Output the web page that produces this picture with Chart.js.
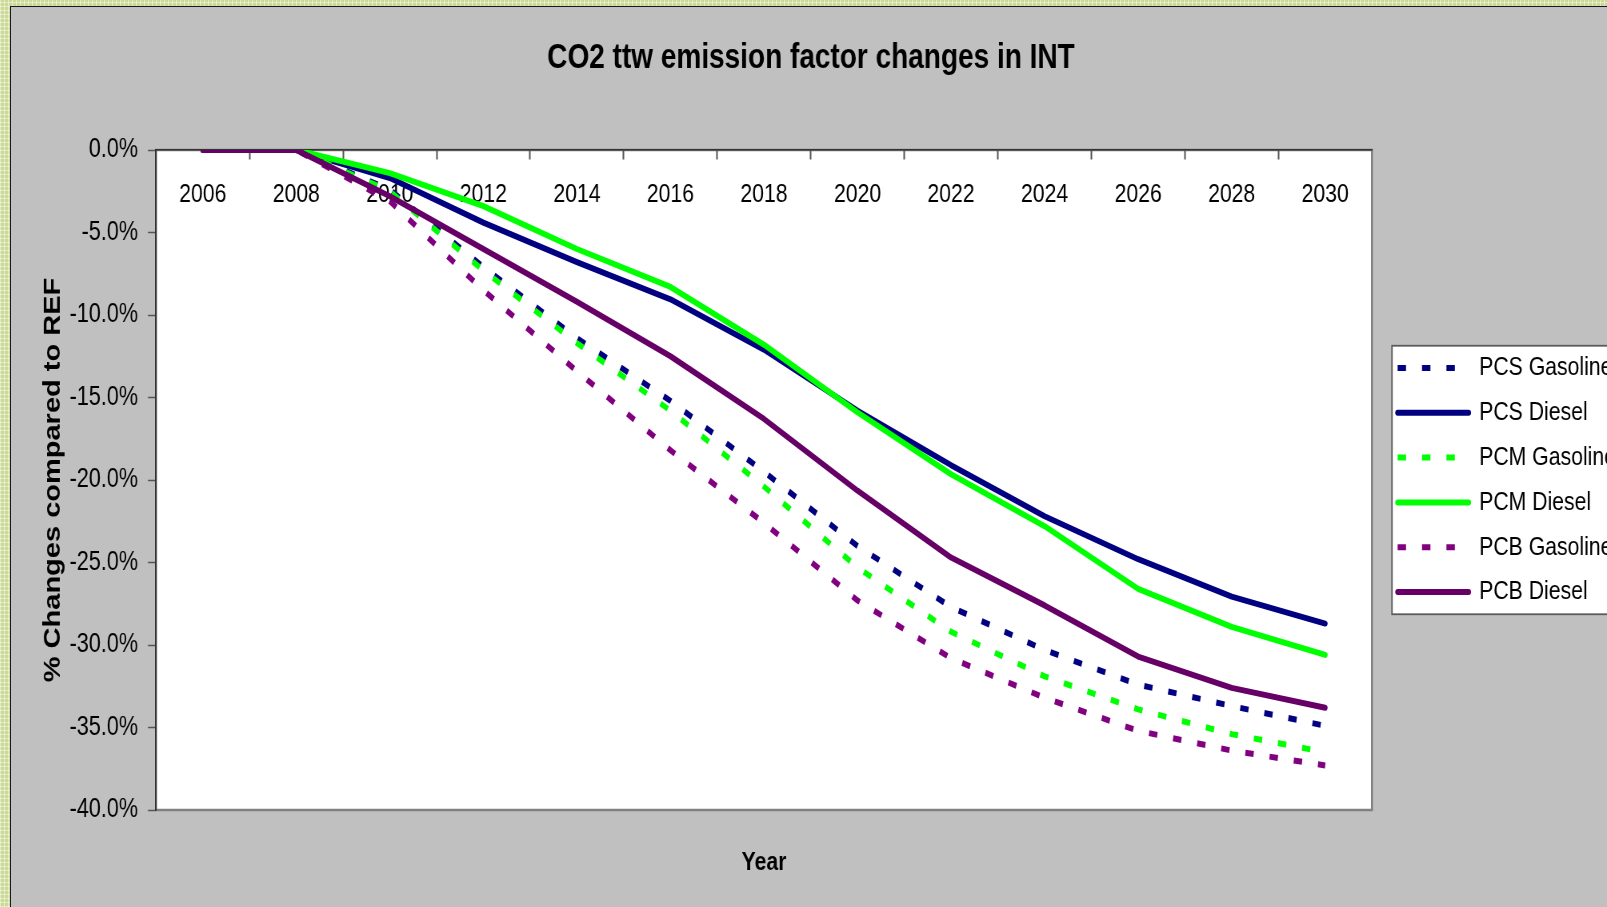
<!DOCTYPE html>
<html>
<head>
<meta charset="utf-8">
<script src="https://cdn.jsdelivr.net/npm/chart.js@4.4.1/dist/chart.umd.min.js"></script>
<style>
html,body{margin:0;padding:0;width:1607px;height:907px;overflow:hidden;}
body{
  background-color:#cad996;
  background-image:
    repeating-linear-gradient(0deg, rgba(255,255,255,0.45) 0 1px, transparent 1px 4px),
    repeating-linear-gradient(90deg, rgba(255,255,255,0.45) 0 1px, transparent 1px 4px);
}
#frame{position:absolute;left:10px;top:6px;width:1700px;height:1000px;background:#c0c0c0;border-left:1px solid #1a1a1a;border-top:1px solid #1a1a1a;overflow:hidden;}
#c{position:absolute;left:0;top:0;transform:scaleX(0.8);transform-origin:0 0;}
</style>
</head>
<body>
<div id="frame"><canvas id="c" width="2000" height="900"></canvas></div>
<script>
// ---- data ----
const years = [2006, 2008, 2010, 2012, 2014, 2016, 2018, 2020, 2022, 2024, 2026, 2028, 2030];
const seriesNames = ['PCS Gasoline', 'PCS Diesel', 'PCM Gasoline', 'PCM Diesel', 'PCB Gasoline', 'PCB Diesel'];
const pcsGasoline = [0, 0, -2.4, -7.1, -11.4, -15.2, -19.5, -24.0, -27.7, -30.3, -32.4, -33.7, -34.9];
const pcsDiesel   = [0, 0, -1.7, -4.4, -6.8, -9.05, -12.1, -15.8, -19.1, -22.2, -24.8, -27.07, -28.7];
const pcmGasoline = [0, 0, -2.5, -7.3, -11.7, -15.8, -20.4, -25.3, -29.2, -31.9, -33.9, -35.4, -36.5];
const pcmDiesel   = [0, 0, -1.4, -3.4, -6.0, -8.3, -11.8, -15.9, -19.65, -22.8, -26.6, -28.9, -30.6];
const pcbGasoline = [0, 0, -3.1, -8.5, -13.4, -18.2, -22.6, -27.3, -30.8, -33.2, -35.2, -36.4, -37.3];
const pcbDiesel   = [0, 0, -2.8, -6.0, -9.2, -12.5, -16.3, -20.65, -24.7, -27.6, -30.7, -32.6, -33.8];
const xLabelYears = [2006, 2008, 2010, 2012, 2014, 2016, 2018, 2020, 2022, 2024, 2026, 2028, 2030];
const yTickValues = [0, -5, -10, -15, -20, -25, -30, -35, -40];

const FONT = "'Liberation Sans',Arial,sans-serif";
Chart.defaults.font.family = FONT;
Chart.defaults.color = '#000';

const seriesValues = [pcsGasoline, pcsDiesel, pcmGasoline, pcmDiesel, pcbGasoline, pcbDiesel];
const colors = ['#000080', '#000080', '#00ff00', '#00ff00', '#800080', '#660066'];
const dotted = [true, false, true, false, true, false];

const datasets = seriesNames.map((name, i) => ({
  label: name,
  data: years.map((yr, j) => ({x: yr, y: seriesValues[i][j]})),
  borderColor: colors[i],
  backgroundColor: colors[i],
  borderWidth: 6,
  borderDash: dotted[i] ? [10.5, 20] : [],
  borderCapStyle: dotted[i] ? 'butt' : 'round',
  borderJoinStyle: 'round',
  pointRadius: 0,
  pointHoverRadius: 0,
  tension: 0,
  fill: false,
  xAxisID: 'x',
  yAxisID: 'y',
  order: seriesNames.length - i
}));

const decor = {
  id: 'decor',
  beforeDraw(chart) {
    const {ctx, chartArea: a} = chart;
    ctx.save();
    ctx.fillStyle = '#ffffff';
    ctx.fillRect(a.left, a.top, a.width, a.height);
    ctx.strokeStyle = '#808080';
    ctx.lineWidth = 2.5;
    ctx.strokeRect(a.left, a.top, a.width, a.height);
    const lg = chart.legend;
    const hb = lg && lg.legendHitBoxes;
    if (hb && hb.length) {
      const top = hb[0].top - 9;
      const last = hb[hb.length - 1];
      const bottom = last.top + last.height + 9;
      const left = lg.left + 11.25;
      ctx.fillStyle = '#ffffff';
      ctx.fillRect(left, top, chart.width - left + 20, bottom - top);
      ctx.strokeStyle = '#5a5a5a';
      ctx.lineWidth = 1.8;
      ctx.strokeRect(left, top, chart.width - left + 20, bottom - top);
    }
    ctx.restore();
  }
};

const baseLabels = Chart.defaults.plugins.legend.labels.generateLabels;

new Chart(document.getElementById('c'), {
  type: 'line',
  data: {datasets},
  plugins: [decor],
  options: {
    responsive: false,
    animation: false,
    devicePixelRatio: 1,
    layout: {padding: 0},
    plugins: {
      tooltip: {enabled: false},
      title: {
        display: true,
        text: 'CO2 ttw emission factor changes in INT',
        color: '#000',
        font: {size: 35, weight: 'bold', family: FONT},
        padding: {top: 30.5, bottom: 70.5}
      },
      legend: {
        position: 'right',
        align: 'center',
        fullSize: false,
        maxWidth: 285,
        labels: {
          usePointStyle: true,
          pointStyle: 'line',
          pointStyleWidth: 88.75,
          padding: 18.3,
          color: '#000',
          font: {size: 26.5, family: FONT},
          sort: (a, b) => a.datasetIndex - b.datasetIndex,
          generateLabels(chart) {
            const items = baseLabels(chart);
            items.forEach(it => {
              const ds = chart.data.datasets[it.datasetIndex];
              it.lineDash = ds.borderDash;
              it.lineCap = ds.borderCapStyle;
              it.lineWidth = ds.borderWidth;
              it.strokeStyle = ds.borderColor;
              it.fillStyle = ds.borderColor;
            });
            return items;
          }
        }
      }
    },
    scales: {
      x: {
        type: 'linear',
        min: 2005,
        max: 2031,
        position: {y: 0},
        border: {display: true, color: '#333', width: 1.5},
        grid: {
          display: true,
          drawOnChartArea: false,
          drawTicks: true,
          tickLength: 9,
          tickWidth: 2,
          tickColor: (c) => (c.tick && Math.abs(c.tick.value % 2) === 1 && c.tick.value > 2005 && c.tick.value < 2031) ? '#555' : 'rgba(0,0,0,0)'
        },
        ticks: {
          stepSize: 1,
          autoSkip: false,
          maxTicksLimit: 100,
          maxRotation: 0,
          minRotation: 0,
          padding: 20,
          color: '#000',
          font: {size: 26.5, family: FONT},
          callback: (v) => xLabelYears.includes(v) ? String(v) : ''
        }
      },
      x2: {
        type: 'linear',
        min: 2005,
        max: 2031,
        position: 'bottom',
        grid: {display: false, drawTicks: false, drawOnChartArea: false},
        border: {display: false},
        ticks: {display: false},
        title: {
          display: true,
          text: 'Year',
          color: '#000',
          font: {size: 26.5, weight: 'bold', family: FONT},
          padding: {top: 37.1, bottom: 28.1}
        }
      },
      y: {
        type: 'linear',
        min: -40,
        max: 0,
        position: 'left',
        afterFit(s) { s.width = 181.25; },
        afterBuildTicks(s) { s.ticks = yTickValues.map(v => ({value: v})); },
        border: {display: true, color: '#333', width: 2},
        grid: {drawOnChartArea: false, drawTicks: true, tickLength: 10, tickWidth: 1.5, tickColor: '#555'},
        ticks: {
          padding: 12.5,
          color: '#000',
          font: {size: 27, family: FONT},
          callback: (v) => (Math.abs(v) < 1e-9 ? 0 : v).toFixed(1) + '%'
        },
        title: {
          display: true,
          text: '% Changes compared to REF',
          color: '#000',
          font: {size: 29, weight: 'bold', family: FONT},
          padding: {top: 35.5, bottom: 0}
        }
      },
      y2: {
        type: 'linear',
        position: 'right',
        min: -40,
        max: 0,
        afterFit(s) { s.width = 13.75; },
        grid: {display: false, drawTicks: false, drawOnChartArea: false},
        border: {display: false},
        ticks: {display: false}
      }
    }
  }
});
</script>
</body>
</html>
